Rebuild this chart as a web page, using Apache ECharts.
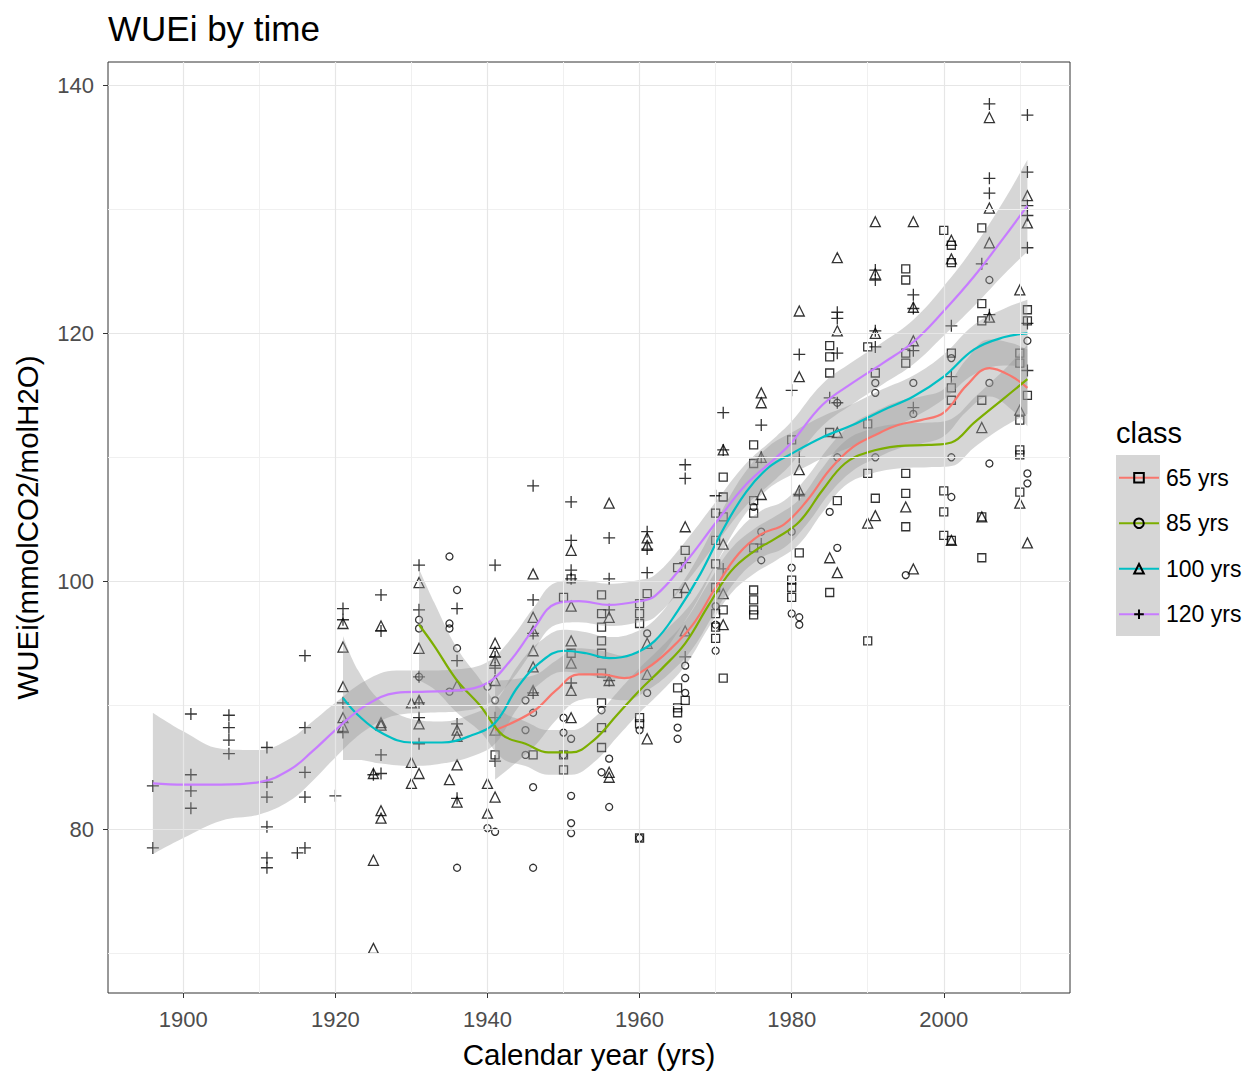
<!DOCTYPE html>
<html><head><meta charset="utf-8">
<script src="https://cdn.jsdelivr.net/npm/echarts@6/dist/echarts.min.js"></script>
<style>html,body{margin:0;padding:0;background:#fff}#c{width:1256px;height:1075px}</style>
</head><body><div id="c"></div>
<script>
// ---------- data ----------
const classes = ['65 yrs', '85 yrs', '100 yrs', '120 yrs'];
const xMajor = [1900, 1920, 1940, 1960, 1980, 2000];
const xMinor = [1910, 1930, 1950, 1970, 1990, 2010];
const yMajor = [80, 100, 120, 140];
const yMinor = [70, 90, 110, 130];

// observed points: [year, WUEi]
const pts65 = [[1941,86.0],[1946,86.0],
 [1951,100.2],[1950,98.7],[1951,94.2],[1950,86.0],[1950,84.8],
 [1955,98.9],[1955,97.4],[1955,96.3],[1955,95.2],[1955,94.2],[1955,92.6],[1955,90.2],[1955,88.2],[1955,86.6],
 [1961,99.0],[1960,98.2],[1960,97.4],[1960,96.6],[1960,89.0],[1960,88.5],[1960,79.3],
 [1966,102.5],[1965,101.1],[1965,99.0],[1965,91.4],[1966,90.4],[1965,89.8],[1965,89.4],
 [1971,108.4],[1971,106.8],[1970,105.5],[1971,105.2],[1970,103.3],[1970,101.4],[1970,99.5],[1971,97.7],[1970,97.4],[1970,96.3],[1970,95.4],[1971,92.2],
 [1975,111.0],[1975,109.5],[1975,106.5],[1975,105.5],[1975,102.7],[1975,99.3],[1975,98.5],[1975,97.7],[1975,97.3],
 [1980,111.4],[1981,102.3],[1980,100.1],[1980,99.5],[1980,98.7],
 [1985,119.0],[1985,118.1],[1985,116.8],[1985,112.0],[1986,106.5],[1985,99.1],
 [1990,118.9],[1991,116.8],[1990,112.7],[1990,108.7],[1991,106.7],[1990,95.2],
 [1995,125.2],[1995,124.3],[1995,118.4],[1995,117.6],[1995,108.7],[1995,107.1],[1995,104.4],
 [2000,128.3],[2001,127.1],[2001,125.7],[2001,118.4],[2001,115.6],[2001,114.6],[2000,107.3],[2000,105.6],[2000,103.7],[2001,103.3],
 [2005,128.5],[2005,122.4],[2005,121.0],[2005,114.6],[2005,105.2],[2005,101.9],
 [2011,121.9],[2011,121.0],[2010,118.4],[2010,117.6],[2011,115.0],[2010,113.0],[2010,110.6],[2010,110.2],[2010,107.2]];

const pts85 = [[1931,96.9],[1931,96.2],[1931,92.3],
 [1935,102.0],[1936,99.3],[1935,96.6],[1935,96.2],[1936,94.6],[1935,91.1],[1936,76.9],
 [1940,91.5],[1941,90.4],[1940,80.1],[1941,79.8],
 [1945,90.4],[1946,89.4],[1945,88.0],[1945,86.0],[1946,83.4],[1946,76.9],
 [1950,89.0],[1950,87.8],[1951,87.3],[1950,86.0],[1951,82.7],[1951,80.5],[1951,79.7],
 [1955,89.6],[1956,85.7],[1955,84.6],[1956,81.8],
 [1961,95.8],[1961,91.0],[1960,88.0],[1960,79.3],
 [1966,93.2],[1966,92.2],[1966,91.0],[1965,88.2],[1965,87.3],
 [1970,98.0],[1970,96.5],[1970,94.4],
 [1975,106.0],[1976,104.0],[1976,101.7],
 [1980,104.0],[1980,101.1],[1980,97.4],[1981,97.1],[1981,96.5],
 [1986,114.4],[1986,110.0],[1985,105.6],[1986,102.7],
 [1991,116.0],[1991,115.2],[1991,110.0],
 [1996,116.0],[1996,113.5],[1995,100.5],
 [2001,118.0],[2001,110.0],[2001,106.8],
 [2006,124.3],[2006,116.0],[2006,109.5],
 [2011,119.4],[2011,108.7],[2011,107.9]];

const pts100 = [[1921,96.6],[1921,94.7],[1921,91.5],[1921,89.0],[1921,88.3],
 [1925,84.5],[1925,77.5],[1925,70.4],
 [1926,96.4],[1926,88.6],[1926,88.4],[1926,81.5],[1926,80.9],
 [1931,99.9],[1931,94.6],[1931,90.4],[1930,90.2],[1931,88.5],[1930,85.4],[1931,84.5],[1930,83.7],
 [1936,91.6],[1936,88.0],[1936,87.5],[1936,85.2],[1935,84.0],[1936,82.2],
 [1941,95.0],[1941,94.3],[1941,93.6],[1941,92.0],[1941,88.0],[1940,83.7],[1941,82.6],[1940,81.3],
 [1946,100.6],[1946,97.1],[1946,96.0],[1946,94.4],[1946,93.1],[1946,91.2],
 [1951,102.5],[1951,98.0],[1951,95.2],[1951,93.4],[1951,91.2],[1951,89.0],
 [1956,106.3],[1956,97.1],[1956,92.0],[1956,84.6],[1956,84.2],
 [1961,103.5],[1961,102.9],[1961,95.0],[1961,92.5],[1961,87.3],
 [1966,104.4],[1966,99.5],[1966,96.0],
 [1971,110.6],[1971,103.0],[1971,99.0],[1971,96.5],
 [1976,115.2],[1976,114.4],[1976,110.0],[1976,107.0],
 [1981,121.8],[1981,116.5],[1981,109.0],[1981,107.3],
 [1986,126.1],[1986,120.2],[1986,112.0],[1985,101.9],[1986,100.7],
 [1991,129.0],[1991,124.8],[1991,120.0],[1991,105.3],[1990,104.7],
 [1996,129.0],[1996,122.1],[1996,119.4],[1995,106.0],[1996,101.0],
 [2001,127.5],[2001,126.0],[2001,103.3],
 [2006,137.4],[2006,130.1],[2006,127.3],[2006,121.3],[2005,112.4],[2005,105.2],
 [2011,131.1],[2011,128.9],[2010,123.5],[2010,113.8],[2010,106.3],[2011,103.1]];

const pts120 = [[1896,83.5],[1896,78.5],
 [1901,89.3],[1901,84.4],[1901,83.1],[1901,81.7],
 [1906,89.2],[1906,88.2],[1906,87.2],[1906,86.1],
 [1911,86.6],[1911,83.8],[1911,82.6],[1911,80.2],[1911,77.7],[1911,76.9],
 [1915,78.1],[1916,94.0],[1916,88.2],[1916,84.6],[1916,82.6],[1916,78.5],
 [1920,82.7],[1921,97.8],[1921,96.9],[1921,90.2],[1921,87.8],
 [1925,84.4],[1926,98.9],[1926,96.0],[1926,86.0],[1926,84.5],
 [1931,101.3],[1931,97.7],[1931,92.3],[1931,90.2],[1931,89.0],[1931,86.9],
 [1936,97.8],[1936,93.6],[1936,88.5],[1936,82.5],
 [1941,101.3],[1941,93.9],[1941,93.0],[1941,89.0],[1941,85.5],
 [1946,107.7],[1946,98.5],[1946,95.8],[1946,91.0],
 [1951,106.4],[1951,103.3],[1951,100.9],[1951,100.2],[1951,91.8],
 [1956,103.5],[1956,100.2],[1956,97.7],[1956,92.0],
 [1961,104.0],[1961,102.6],[1961,100.7],
 [1966,109.4],[1966,108.3],[1966,101.5],[1966,93.9],
 [1971,113.6],[1971,110.6],[1970,106.9],[1971,101.0],
 [1976,112.6],[1976,110.0],[1976,103.0],
 [1981,118.3],[1980,115.4],[1981,110.0],[1981,107.0],
 [1986,121.7],[1986,121.2],[1986,118.4],[1985,114.8],[1986,114.4],
 [1991,125.1],[1991,124.3],[1991,120.2],[1991,118.9],
 [1996,123.1],[1996,122.0],[1996,118.6],[1996,114.0],
 [2001,120.6],[2001,116.5],
 [2006,138.5],[2006,132.5],[2006,131.3],[2005,125.6],[2006,121.5],
 [2011,137.6],[2011,133.0],[2011,130.3],[2011,129.5],[2011,126.9],[2011,120.8],[2011,117.0]];

// smoothed fits and half-width of the grey confidence band
const fitYears65 = [1941,1946,1949,1952,1955,1958,1961,1964,1967,1970,1973,1976,1979,1982,1985,1988,1991,1994,1997,2000,2003,2006,2009,2011];
const fit65 = [88.0,89.5,91.2,92.5,92.5,92.2,93.0,94.5,96.5,99.5,102.2,103.8,104.6,106.5,109.0,110.8,111.8,112.6,113.0,113.6,115.8,117.2,116.5,115.6];
const se65 = [4.0,2.9,2.4,2.1,1.9,1.8,1.8,1.9,1.9,1.9,1.9,1.9,1.9,1.9,1.9,1.9,1.9,1.9,1.9,1.9,2.1,2.3,2.7,3.1];

const fitYears85 = [1931,1933,1936,1939,1942,1945,1948,1951,1954,1957,1960,1963,1966,1969,1972,1975,1978,1981,1984,1987,1990,1994,1998,2001,2004,2008,2011];
const fit85 = [96.5,94.8,92.0,90.0,87.6,86.9,86.2,86.2,87.2,89.2,91.2,93.0,95.0,98.0,100.8,102.4,103.5,104.8,107.3,109.5,110.4,110.9,111.0,111.2,112.8,114.8,116.3];
const se85 = [4.5,3.5,2.6,2.1,1.9,1.8,1.8,1.8,1.8,1.8,1.8,1.8,1.8,1.8,1.8,1.8,1.8,1.8,1.8,1.8,1.8,1.8,1.8,1.9,2.0,2.3,2.8];

const fitYears100 = [1921,1923,1926,1930,1934,1938,1941,1944,1947,1950,1953,1956,1959,1962,1965,1968,1971,1974,1977,1980,1984,1988,1992,1996,2000,2004,2008,2011];
const fit100 = [90.6,89.2,87.8,87.0,87.0,87.6,88.6,91.5,93.5,94.4,94.2,93.8,94.1,95.2,97.6,100.6,104.2,107.2,109.2,110.3,111.6,112.6,113.8,114.9,116.5,118.7,119.7,120.0];
const se100 = [5.0,3.6,2.5,1.9,1.7,1.7,1.7,1.7,1.7,1.7,1.7,1.7,1.7,1.7,1.7,1.7,1.7,1.7,1.7,1.7,1.7,1.7,1.7,1.7,1.8,2.0,2.3,2.7];

const fitYears120 = [1896,1900,1905,1910,1914,1917,1920,1924,1928,1932,1936,1940,1943,1946,1949,1952,1956,1960,1962,1966,1970,1974,1978,1980,1984,1988,1992,1996,2000,2004,2008,2011];
const fit120 = [83.7,83.6,83.6,83.8,84.8,86.3,88.0,90.0,91.0,91.1,91.2,91.8,93.6,96.1,98.2,98.4,98.1,98.4,98.8,101.5,104.7,107.8,110.0,111.2,114.2,116.0,117.6,119.3,121.8,124.6,127.8,130.3];
const se120 = [5.7,4.3,2.9,2.6,2.5,2.4,2.2,2.0,1.8,1.7,1.7,1.7,1.7,1.7,1.7,1.7,1.7,1.7,1.7,1.7,1.7,1.7,1.7,1.7,1.7,1.7,1.7,1.8,2.0,2.4,3.0,3.7];

// ---------- styling ----------
const FONT = '"Liberation Sans", Arial, sans-serif';
const classColor = ['#F8766D', '#7CAE00', '#00BFC4', '#C77CFF'];
const classShape = ['rect', 'circle', 'triangle', 'path://M6,0L6,12M0,6L12,6'];
const classSize = [8, 7, 10, 12];
const classPts = [pts65, pts85, pts100, pts120];
const classFitYears = [fitYears65, fitYears85, fitYears100, fitYears120];
const classFit = [fit65, fit85, fit100, fit120];
const classSe = [se65, se85, se100, se120];

const lineSeries = [], bandSeries = [], pointSeries = [];
classes.forEach((cls, i) => {
  const yrs = classFitYears[i], fit = classFit[i], se = classSe[i];
  lineSeries.push({
    type: 'line', name: cls, z: 4, silent: true, smooth: 0.4,
    symbol: classShape[i], symbolSize: classSize[i], showSymbol: false,
    data: yrs.map((y, k) => [y, fit[k]]),
    lineStyle: { color: classColor[i], width: 2.2 },
    itemStyle: { color: 'rgba(0,0,0,0)', borderColor: '#000', borderWidth: 1.3 },
    emphasis: { disabled: true }, animation: false
  });
  // band: value first, year second, so that stacking acts on the value dimension
  bandSeries.push({
    type: 'line', name: cls, z: 3, silent: true, smooth: 0.4, stack: 'band' + i,
    symbol: 'none', encode: { x: 1, y: 0 },
    data: yrs.map((y, k) => [fit[k] - se[k], y]),
    lineStyle: { width: 0, opacity: 0 }, emphasis: { disabled: true }, animation: false
  });
  bandSeries.push({
    type: 'line', name: cls, z: 3, silent: true, smooth: 0.4, stack: 'band' + i,
    symbol: 'none', encode: { x: 1, y: 0 },
    data: yrs.map((y, k) => [2 * se[k], y]),
    lineStyle: { width: 0, opacity: 0 },
    areaStyle: { color: 'rgba(153,153,153,0.4)', opacity: 1 },
    emphasis: { disabled: true }, animation: false
  });
  pointSeries.push({
    type: 'scatter', name: cls, z: 2, silent: true,
    symbol: classShape[i], symbolSize: classSize[i],
    data: classPts[i],
    itemStyle: { color: 'rgba(0,0,0,0)', borderColor: '#000', borderWidth: 1.3 },
    emphasis: { disabled: true }, animation: false
  });
});

const majorGrid = { color: '#E6E6E6', width: 1.2, type: 'solid' };
const minorGrid = { color: '#F0F0F0', width: 1, type: 'solid' };
const gridSeries = {
  type: 'line', name: '_grid', z: 1, silent: true, data: [],
  markLine: {
    silent: true, symbol: ['none', 'none'], label: { show: false }, animation: false,
    emphasis: { disabled: true },
    data: [].concat(
      xMinor.map(v => ({ xAxis: v, lineStyle: minorGrid })),
      yMinor.map(v => ({ yAxis: v, lineStyle: minorGrid })),
      xMajor.map(v => ({ xAxis: v, lineStyle: majorGrid })),
      yMajor.map(v => ({ yAxis: v, lineStyle: majorGrid }))
    )
  }
};

const chart = echarts.init(document.getElementById('c'), null, { renderer: 'svg' });
chart.setOption({
  animation: false,
  backgroundColor: '#fff',
  textStyle: { fontFamily: FONT },
  title: [
    { text: 'WUEi by time', left: 108, top: 11, padding: 0,
      textStyle: { fontSize: 35, fontWeight: 'normal', color: '#000', fontFamily: FONT } },
    { text: 'class', left: 1116, top: 418, padding: 0,
      textStyle: { fontSize: 29, fontWeight: 'normal', color: '#000', fontFamily: FONT } }
  ],
  grid: { left: 108, top: 62, width: 962, height: 931, show: true,
          borderColor: '#333333', borderWidth: 1, backgroundColor: 'rgba(0,0,0,0)' },
  xAxis: {
    type: 'value', min: 1890.1, max: 2016.6,
    splitLine: { show: false }, axisLine: { show: false, onZero: false },
    axisTick: { show: true, customValues: xMajor, length: 5, lineStyle: { color: '#333333' } },
    axisLabel: { customValues: xMajor, formatter: v => String(v), color: '#4D4D4D', fontSize: 22, margin: 15, fontFamily: FONT },
    name: 'Calendar year (yrs)', nameLocation: 'middle', nameGap: 46,
    nameTextStyle: { fontSize: 29.5, color: '#000', fontFamily: FONT }
  },
  yAxis: {
    type: 'value', min: 66.8, max: 141.88,
    splitLine: { show: false }, axisLine: { show: false, onZero: false },
    axisTick: { show: true, customValues: yMajor, length: 5, lineStyle: { color: '#333333' } },
    axisLabel: { customValues: yMajor, formatter: v => String(v), color: '#4D4D4D', fontSize: 22, margin: 14, fontFamily: FONT },
    name: 'WUEi(mmolCO2/molH2O)', nameLocation: 'middle', nameGap: 66, nameRotate: 90,
    nameTextStyle: { fontSize: 29.5, color: '#000', fontFamily: FONT }
  },
  legend: {
    data: classes, orient: 'vertical', left: 1118, top: 455, padding: 0,
    itemWidth: 40, itemHeight: 12, itemGap: 0, selectedMode: false,
    textStyle: { fontSize: 23, lineHeight: 45.5, color: '#000', fontFamily: FONT, padding: [0, 0, 0, 2] }
  },
  graphic: [
    { type: 'rect', left: 1116, top: 455, z: -1, silent: true,
      shape: { width: 44, height: 181 }, style: { fill: '#D6D6D6' } }
  ],
  series: [].concat(lineSeries, bandSeries, pointSeries, [gridSeries])
});
</script>
</body></html>
